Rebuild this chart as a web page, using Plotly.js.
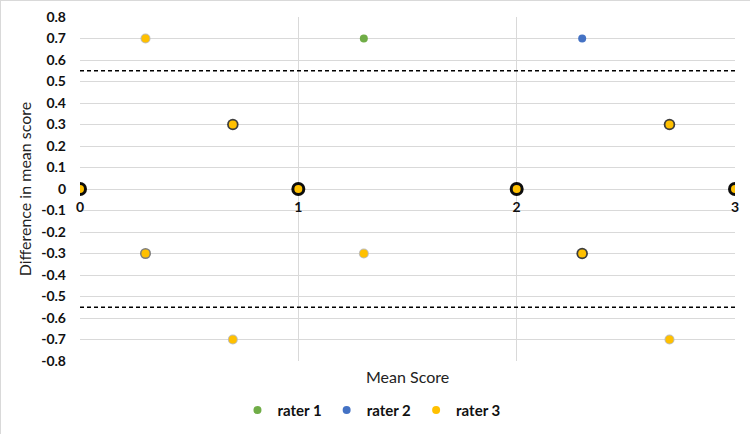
<!DOCTYPE html>
<html><head><meta charset="utf-8">
<script src="https://cdn.plot.ly/plotly-3.0.1.min.js"></script>
<style>html,body{margin:0;padding:0;background:#fff}#c{width:750px;height:434px;box-sizing:border-box;border:1px solid #d9d9d9}</style>
</head><body><div id="c"></div>
<script>
// data
const r1x = [0, 0.7, 1, 1.3, 2, 2.3, 2.7, 3];
const r1y = [0, 0.3, 0, 0.7, 0, -0.3, 0.3, 0];
const r2x = [0, 0.7, 1, 2, 2.3, 2.3, 2.7, 3];
const r2y = [0, 0.3, 0, 0, 0.7, -0.3, 0.3, 0];
const r3x = [0, 0.3, 0.3, 0.7, 0.7, 1, 1.3, 2, 2.3, 2.7, 2.7, 3];
const r3y = [0, 0.7, -0.3, 0.3, -0.7, 0, -0.3, 0, -0.3, 0.3, -0.7, 0];
const overlap = [4, 1, 2, 3, 1, 4, 1, 4, 3, 3, 1, 4]; // stacked markers (shadow depth)
const limits = [0.55, -0.55];
const xTicks = [0, 1, 2, 3];
const yTicks = [0.8,0.7,0.6,0.5,0.4,0.3,0.2,0.1,0,-0.1,-0.2,-0.3,-0.4,-0.5,-0.6,-0.7,-0.8];
const yTickText = yTicks.map(v => String(v));

const font = "Lato, 'Open Sans', sans-serif";
const shadowCol = {4: '#000', 3: '#333', 2: '#777', 1: '#bbb'};
const shadowSize = {4: 14, 3: 11.5, 2: 11, 1: 10};

const traces = [
  {x: r1x, y: r1y, mode: 'markers', name: 'rater 1', marker: {color: '#70ad47', size: 8, line: {width: 0}}},
  {x: r2x, y: r2y, mode: 'markers', name: 'rater 2', marker: {color: '#4472c4', size: 8, line: {width: 0}}},
  {x: r3x, y: r3y, mode: 'markers', name: 'shadow', showlegend: false,
    marker: {color: overlap.map(o => shadowCol[o]), size: overlap.map(o => shadowSize[o]), opacity: 0.95, line: {width: 0}}},
  {x: r3x, y: r3y, mode: 'markers', name: 'rater 3', marker: {color: '#ffc000', size: 8, line: {width: 0}}}
];

const shapes = limits.map(v => ({type: 'line', xref: 'paper', x0: 0, x1: 1, yref: 'y', y0: v, y1: v,
  line: {color: '#000', width: 1.5, dash: '4px,3px'}}));

const layout = {
  width: 750, height: 434,
  margin: {l: 79, r: 16, t: 16, b: 74},
  paper_bgcolor: '#fff', plot_bgcolor: '#fff',
  showlegend: true,
  legend: {orientation: 'h', x: 0.445, xanchor: 'center', yref: 'container', y: 0.057, yanchor: 'middle',
    font: {family: font, size: 15, color: '#111', weight: 'bold'}, tracegroupgap: 0},
  xaxis: {range: [0, 3], tickvals: xTicks, ticktext: xTicks.map(String), anchor: 'free', position: 0.5,
    showline: false, zeroline: false, showgrid: true, gridcolor: '#d9d9d9', gridwidth: 1,
    ticks: '', ticklabelstandoff: 8, tickfont: {family: font, size: 14, color: '#111', weight: 'bold'}},
  yaxis: {range: [-0.8, 0.8], tickvals: yTicks, ticktext: yTickText, showline: false, zeroline: false,
    showgrid: true, gridcolor: '#d9d9d9', gridwidth: 1, ticks: '', ticklabelstandoff: 13,
    tickfont: {family: font, size: 14, color: '#111', weight: 'bold'},
    title: {text: 'Difference in mean score', font: {family: font, size: 16, color: '#222'}, standoff: 5}},
  shapes: shapes,
  annotations: [{text: 'Mean Score', xref: 'paper', yref: 'paper', x: 0.5, y: -0.012, yanchor: 'top', showarrow: false,
    font: {family: font, size: 16, color: '#222'}}]
};
Plotly.newPlot('c', traces, layout, {displayModeBar: false, staticPlot: true});
</script></body></html>
